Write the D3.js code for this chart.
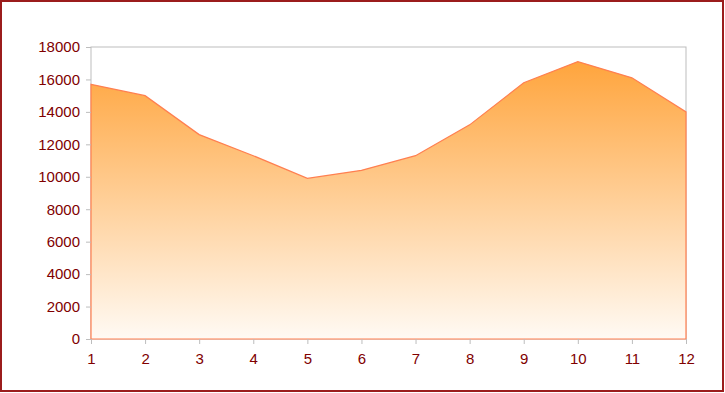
<!DOCTYPE html>
<html><head><meta charset="utf-8">
<script src="https://cdn.jsdelivr.net/npm/d3@7"></script>
<style>body{margin:0;background:#fff}svg{display:block}</style>
</head><body>
<svg id="c" width="725" height="393"></svg>
<script>
const categories = [1,2,3,4,5,6,7,8,9,10,11,12];
const values = [15700,15000,12600,11300,9900,10400,11300,13200,15800,17100,16100,14000];
const yTicks = [0,2000,4000,6000,8000,10000,12000,14000,16000,18000];

const svg = d3.select("#c");
const W = 725, H = 393;
const m = {left:91, right:686, top:47, bottom:339};

svg.append("rect").attr("x",1).attr("y",1).attr("width",W-3).attr("height",H-3)
  .attr("fill","#fff").attr("stroke","#9b1c1c").attr("stroke-width",2);

const x = d3.scaleLinear().domain([1,12]).range([m.left,m.right]);
const y = d3.scaleLinear().domain([0,18000]).range([m.bottom,m.top]);

const defs = svg.append("defs");
const g = defs.append("linearGradient").attr("id","grad")
  .attr("gradientUnits","userSpaceOnUse").attr("x1",0).attr("x2",0)
  .attr("y1",y(18000)).attr("y2",y(0));
g.append("stop").attr("offset","0%").attr("stop-color","#ffa033");
g.append("stop").attr("offset","100%").attr("stop-color","#fffaf4");

svg.append("rect").attr("x",m.left).attr("y",m.top).attr("width",m.right-m.left).attr("height",m.bottom-m.top)
  .attr("fill","none").attr("stroke","#bdbdbd").attr("stroke-width",1);

const data = categories.map((c,i)=>({c,v:values[i]}));
const area = d3.area().x(d=>x(d.c)).y0(y(0)).y1(d=>y(d.v));
svg.append("path").datum(data).attr("d",area)
  .attr("fill","url(#grad)").attr("stroke","#ff7f50").attr("stroke-width",1.2);

const yAxis = d3.axisLeft(y).tickValues(yTicks).tickSize(5).tickPadding(6).tickFormat(d3.format("d"));
const ya = svg.append("g").attr("transform",`translate(${m.left},0)`).call(yAxis);
ya.select(".domain").remove();
ya.selectAll("line").attr("stroke","#bdbdbd");
ya.selectAll("text").attr("fill","#800000").style("font-family","Liberation Sans, Arial, sans-serif").style("font-size","15px");

const xAxis = d3.axisBottom(x).tickValues(categories).tickSize(5).tickPadding(9).tickFormat(d3.format("d"));
const xa = svg.append("g").attr("transform",`translate(0,${m.bottom})`).call(xAxis);
xa.select(".domain").remove();
xa.selectAll("line").attr("stroke","#bdbdbd");
xa.selectAll("text").attr("fill","#800000").style("font-family","Liberation Sans, Arial, sans-serif").style("font-size","15px");
</script>
</body></html>
